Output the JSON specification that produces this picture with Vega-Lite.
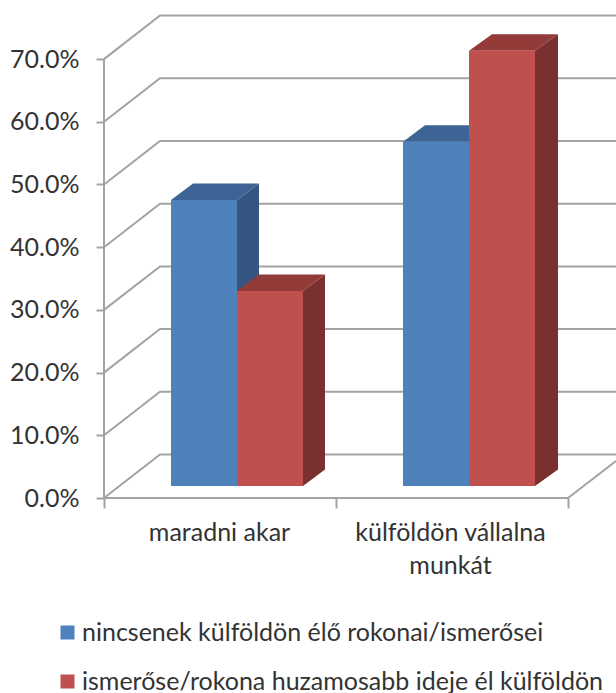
{
"$schema":"https://vega.github.io/schema/vega-lite/v6.json",
"width":512,"height":488,
"autosize":{"type":"none"},
"padding":{"left":104,"top":10,"right":0,"bottom":195},
"background":"white",
"datasets":{
"wall":[
{"level":"0","x":0,"y":0},{"level":"0","x":56,"y":0.0694},{"level":"0","x":512,"y":0.0694},
{"level":"10","x":0,"y":0.1},{"level":"10","x":56,"y":0.1694},{"level":"10","x":512,"y":0.1694},
{"level":"20","x":0,"y":0.2},{"level":"20","x":56,"y":0.2694},{"level":"20","x":512,"y":0.2694},
{"level":"30","x":0,"y":0.3},{"level":"30","x":56,"y":0.3694},{"level":"30","x":512,"y":0.3694},
{"level":"40","x":0,"y":0.4},{"level":"40","x":56,"y":0.4694},{"level":"40","x":512,"y":0.4694},
{"level":"50","x":0,"y":0.5},{"level":"50","x":56,"y":0.5694},{"level":"50","x":512,"y":0.5694},
{"level":"60","x":0,"y":0.6},{"level":"60","x":56,"y":0.6694},{"level":"60","x":512,"y":0.6694},
{"level":"70","x":0,"y":0.7},{"level":"70","x":56,"y":0.7694},{"level":"70","x":512,"y":0.7694},
{"level":"yaxis","x":0,"y":0},{"level":"yaxis","x":0,"y":0.7},
{"level":"xaxis","x":0,"y":0},{"level":"xaxis","x":464,"y":0},{"level":"xaxis","x":512,"y":0.059}
],
"sides":[
{"bar":"a1","x":133,"low":0,"high":0.456},{"bar":"a1","x":155,"low":0.0263,"high":0.4823},
{"bar":"a2","x":199,"low":0,"high":0.311},{"bar":"a2","x":221,"low":0.0263,"high":0.3373},
{"bar":"b1","x":365,"low":0,"high":0.549},{"bar":"b1","x":387,"low":0.0263,"high":0.5753},
{"bar":"b2","x":431,"low":0,"high":0.694},{"bar":"b2","x":454,"low":0.0263,"high":0.7203}
],
"tops":[
{"bar":"a1","y":0.456,"xa":67,"xb":133},{"bar":"a1","y":0.4823,"xa":89,"xb":155},
{"bar":"a2","y":0.311,"xa":133,"xb":199},{"bar":"a2","y":0.3373,"xa":155,"xb":221},
{"bar":"b1","y":0.549,"xa":299,"xb":365},{"bar":"b1","y":0.5753,"xa":321,"xb":387},
{"bar":"b2","y":0.694,"xa":365,"xb":431},{"bar":"b2","y":0.7203,"xa":388,"xb":454}
],
"bars":[
{"category":"maradni akar","series":"nincsenek külföldön élő rokonai/ismerősei","x0":67,"x1":133,"value":0.456},
{"category":"maradni akar","series":"ismerőse/rokona huzamosabb ideje él külföldön","x0":133,"x1":199,"value":0.311},
{"category":"külföldön vállalna munkát","series":"nincsenek külföldön élő rokonai/ismerősei","x0":299,"x1":365,"value":0.549},
{"category":"külföldön vállalna munkát","series":"ismerőse/rokona huzamosabb ideje él külföldön","x0":365,"x1":431,"value":0.694}
]
},
"layer":[
{"data":{"name":"wall"},
 "mark":{"type":"line","color":"#A3A3A3","strokeWidth":2,"interpolate":"linear"},
 "encoding":{
  "x":{"field":"x","type":"quantitative","scale":{"domain":[0,512],"nice":false,"zero":false},
   "axis":{"title":null,"domain":false,"grid":false,"values":[0,115,232,346,464],
    "tickSize":10,"tickWidth":2,"tickColor":"#A3A3A3",
    "tickOpacity":{"condition":{"test":"datum.value==115||datum.value==346","value":0},"value":1},
    "labelExpr":"datum.value==115?'maradni akar':datum.value==346?['külföldön vállalna','munkát']:''",
    "labelFont":"Lato","labelFontSize":25,"labelColor":"#333333","labelPadding":12,"labelLineHeight":33,"labelLimit":400,"labelOverlap":false,"labelBaseline":"top","labelAlign":"center","labelFlush":false,"labelBound":false}},
  "y":{"field":"y","type":"quantitative","scale":{"domain":[0,0.7783],"nice":false,"zero":false},
   "axis":{"title":null,"domain":false,"grid":false,"values":[0,0.1,0.2,0.3,0.4,0.5,0.6,0.7],"format":".1%",
    "tickSize":8,"tickWidth":2,"tickColor":"#A3A3A3",
    "labelFont":"Lato","labelFontSize":25,"labelColor":"#333333","labelPadding":17,"labelOverlap":false,"labelBound":false,"labelFlush":false}},
  "detail":{"field":"level"},
  "order":{"field":"x","type":"quantitative"}
 }},
{"data":{"name":"sides"},
 "mark":{"type":"area","yOffset":-12,"y2Offset":-12,"clip":false},
 "encoding":{
  "x":{"field":"x","type":"quantitative"},
  "y":{"field":"low","type":"quantitative"},
  "y2":{"field":"high"},
  "color":{"field":"bar","type":"nominal","legend":null,"scale":{"domain":["a1","a2","b1","b2"],"range":["#34557F","#7A302E","#34557F","#7A302E"]}}
 }},
{"data":{"name":"tops"},
 "mark":{"type":"area","orient":"horizontal","yOffset":-12,"y2Offset":-12},
 "encoding":{
  "y":{"field":"y","type":"quantitative"},
  "x":{"field":"xa","type":"quantitative"},
  "x2":{"field":"xb"},
  "color":{"field":"bar","type":"nominal","legend":null,"scale":{"domain":["a1","a2","b1","b2"],"range":["#3D6494","#933B38","#3D6494","#933B38"]}}
 }},
{"data":{"name":"bars"},
 "mark":{"type":"rect","yOffset":-12,"y2Offset":-12},
 "encoding":{
  "x":{"field":"x0","type":"quantitative"},
  "x2":{"field":"x1"},
  "y":{"field":"value","type":"quantitative"},
  "y2":{"datum":0},
  "color":{"field":"series","type":"nominal","sort":null,
   "scale":{"domain":["nincsenek külföldön élő rokonai/ismerősei","ismerőse/rokona huzamosabb ideje él külföldön"],"range":["#4F81BD","#C0504D"]},
   "legend":{"title":null,"orient":"none","legendX":-49,"legendY":610,"direction":"vertical","columns":1,
    "symbolType":"square","symbolSize":196,"symbolStrokeWidth":0,"rowPadding":23,"labelFont":"Lato","labelFontSize":25,"labelColor":"#333333","labelLimit":600,"labelOffset":2}}
 }}
],
"resolve":{"scale":{"color":"independent"}},
"config":{"view":{"stroke":null}}
}
